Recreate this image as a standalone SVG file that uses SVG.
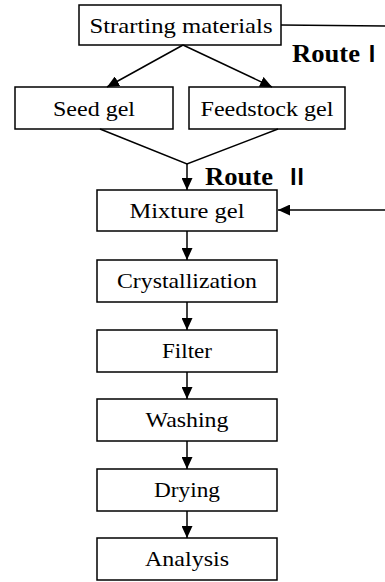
<svg xmlns="http://www.w3.org/2000/svg" width="385" height="582" viewBox="0 0 385 582">
<style>
.box rect{fill:#fff;stroke:#000;stroke-width:1.5}
.box text{font-family:"Liberation Serif","Times New Roman",serif;font-size:22px;fill:#000;text-anchor:middle}
.route{font-family:"Liberation Serif","Times New Roman",serif;font-size:25px;font-weight:bold;fill:#000}
.num{font-family:"Noto Sans CJK SC",sans-serif;font-size:22px;font-weight:bold;fill:#000}
.conn line,.conn polyline{stroke:#000;stroke-width:1.5;fill:none}
</style>
<defs>
<marker id="ah" markerUnits="userSpaceOnUse" markerWidth="13" markerHeight="11" refX="12" refY="5.5" orient="auto">
<path d="M0,0 L12,5.5 L0,11 Z" fill="#000"/>
</marker>
</defs>
<rect width="385" height="582" fill="#fff"/>
<g id="start" class="box"><rect x="79" y="5" width="202" height="40"/><text x="181" y="33" textLength="183" lengthAdjust="spacingAndGlyphs">Strarting materials</text></g>
<g id="seed" class="box"><rect x="15" y="87" width="158" height="42"/><text x="94" y="116" textLength="82" lengthAdjust="spacingAndGlyphs">Seed gel</text></g>
<g id="feed" class="box"><rect x="189" y="87" width="156" height="42"/><text x="267" y="116" textLength="133" lengthAdjust="spacingAndGlyphs">Feedstock gel</text></g>
<g id="mixture" class="box"><rect x="97" y="190" width="180" height="41"/><text x="187" y="218" textLength="115" lengthAdjust="spacingAndGlyphs">Mixture gel</text></g>
<g id="cryst" class="box"><rect x="97" y="260" width="180" height="42"/><text x="187" y="288" textLength="140" lengthAdjust="spacingAndGlyphs">Crystallization</text></g>
<g id="filter" class="box"><rect x="97" y="330" width="180" height="42"/><text x="187" y="358" textLength="50" lengthAdjust="spacingAndGlyphs">Filter</text></g>
<g id="washing" class="box"><rect x="97" y="399" width="180" height="42"/><text x="187" y="427" textLength="83" lengthAdjust="spacingAndGlyphs">Washing</text></g>
<g id="drying" class="box"><rect x="97" y="469" width="180" height="42"/><text x="187" y="497" textLength="66" lengthAdjust="spacingAndGlyphs">Drying</text></g>
<g id="analysis" class="box"><rect x="97" y="538" width="180" height="42"/><text x="187" y="566" textLength="84" lengthAdjust="spacingAndGlyphs">Analysis</text></g>
<g id="labels">
<text x="292" y="62"><tspan class="route" textLength="68" lengthAdjust="spacingAndGlyphs">Route</tspan><tspan class="num" x="361">Ⅰ</tspan></text>
<text x="205" y="185"><tspan class="route" textLength="68" lengthAdjust="spacingAndGlyphs">Route</tspan><tspan class="num" x="286">Ⅱ</tspan></text>
</g>
<g id="connectors" class="conn">
<line x1="281" y1="25" x2="385" y2="26"/>
<line x1="183" y1="45" x2="107" y2="87" marker-end="url(#ah)"/>
<line x1="183" y1="45" x2="272" y2="87" marker-end="url(#ah)"/>
<polyline points="100,129 187,164 278,129"/>
<line x1="187" y1="164" x2="187" y2="190" marker-end="url(#ah)"/>
<line x1="385" y1="210" x2="278" y2="210" marker-end="url(#ah)"/>
<line x1="187" y1="231" x2="187" y2="260" marker-end="url(#ah)"/>
<line x1="187" y1="302" x2="187" y2="330" marker-end="url(#ah)"/>
<line x1="187" y1="372" x2="187" y2="399" marker-end="url(#ah)"/>
<line x1="187" y1="441" x2="187" y2="469" marker-end="url(#ah)"/>
<line x1="187" y1="511" x2="187" y2="538" marker-end="url(#ah)"/>
</g>
</svg>
